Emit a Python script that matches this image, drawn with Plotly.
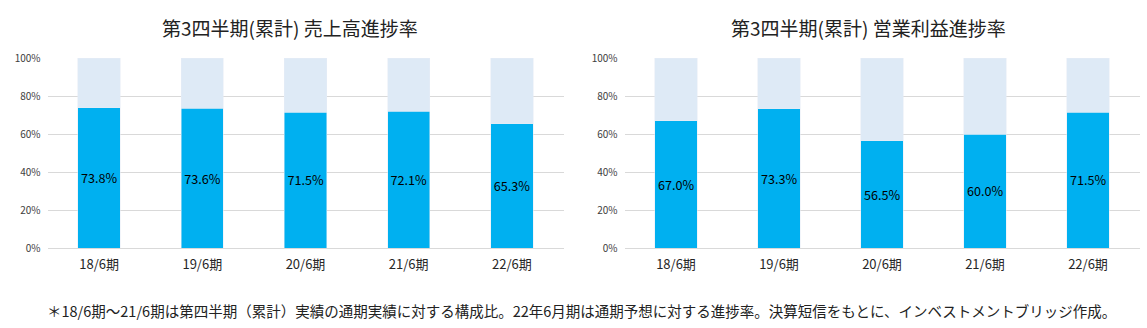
import plotly.graph_objects as go
from plotly.subplots import make_subplots

# Fiscal periods and cumulative Q3 progress rates (%)
periods = ["18/6期", "19/6期", "20/6期", "21/6期", "22/6期"]
sales_progress = [73.8, 73.6, 71.5, 72.1, 65.3]
op_profit_progress = [67.0, 73.3, 56.5, 60.0, 71.5]

titles = ["第3四半期(累計) 売上高進捗率", "第3四半期(累計) 営業利益進捗率"]
footnote = ("＊18/6期～21/6期は第四半期（累計）実績の通期実績に対する構成比。"
            "22年6月期は通期予想に対する進捗率。決算短信をもとに、インベストメントブリッジ作成。")

FONT = "Noto Sans CJK JP"
BLUE = "#00B0F0"
PALE = "#DEEAF6"
GRID = "#D9D9D9"

fig = make_subplots(rows=1, cols=2)

for col, values in enumerate([sales_progress, op_profit_progress], start=1):
    shares = [v / 100 for v in values]
    remainder = [1 - s for s in shares]
    fig.add_trace(go.Bar(
        x=periods, y=shares, marker_color=BLUE, width=0.41,
        text=[f"{v:.1f}%" for v in values], textposition="inside",
        insidetextanchor="middle", textangle=0,
        textfont=dict(family=FONT, size=14, color="#000000"),
        showlegend=False, hoverinfo="skip",
    ), row=1, col=col)
    fig.add_trace(go.Bar(
        x=periods, y=remainder, marker_color=PALE, width=0.41,
        showlegend=False, hoverinfo="skip",
    ), row=1, col=col)

W, H = 1147, 328
left_dom = [47.5 / W, 563.5 / W]
right_dom = [624.5 / W, 1139.5 / W]
y_dom = [(H - 248) / H, (H - 58) / H]

fig.update_xaxes(showline=False, zeroline=False, ticks="", showgrid=False,
                 automargin=False, ticklabelstandoff=7,
                 tickfont=dict(family=FONT, size=13, color="#262626"))
fig.update_xaxes(domain=left_dom, row=1, col=1)
fig.update_xaxes(domain=right_dom, row=1, col=2)
fig.update_yaxes(range=[0, 1], tickvals=[0, 0.2, 0.4, 0.6, 0.8, 1.0],
                 ticktext=["0%", "20%", "40%", "60%", "80%", "100%"],
                 showgrid=True, gridcolor=GRID, gridwidth=1,
                 zeroline=True, zerolinecolor=GRID, zerolinewidth=1,
                 showline=False, ticks="", ticklabelstandoff=6,
                 automargin=False,
                 tickfont=dict(family=FONT, size=10, color="#404040"),
                 domain=y_dom)

fig.update_layout(
    barmode="stack", width=W, height=H,
    margin=dict(l=0, r=0, t=0, b=0, autoexpand=False),
    paper_bgcolor="white", plot_bgcolor="white",
    font=dict(family=FONT),
)

for title, center_px in zip(titles, [289.5, 868]):
    fig.add_annotation(text=title, x=center_px / W, y=1 - 28 / H,
                       xref="paper", yref="paper", showarrow=False,
                       xanchor="center", yanchor="middle",
                       font=dict(family=FONT, size=19, color="#222222"))

fig.add_annotation(text=footnote, x=581 / W, y=1 - 310 / H, xref="paper", yref="paper",
                   showarrow=False, xanchor="center", yanchor="middle",
                   font=dict(family=FONT, size=14.5, color="#222222"))

fig.write_html("out.html")
